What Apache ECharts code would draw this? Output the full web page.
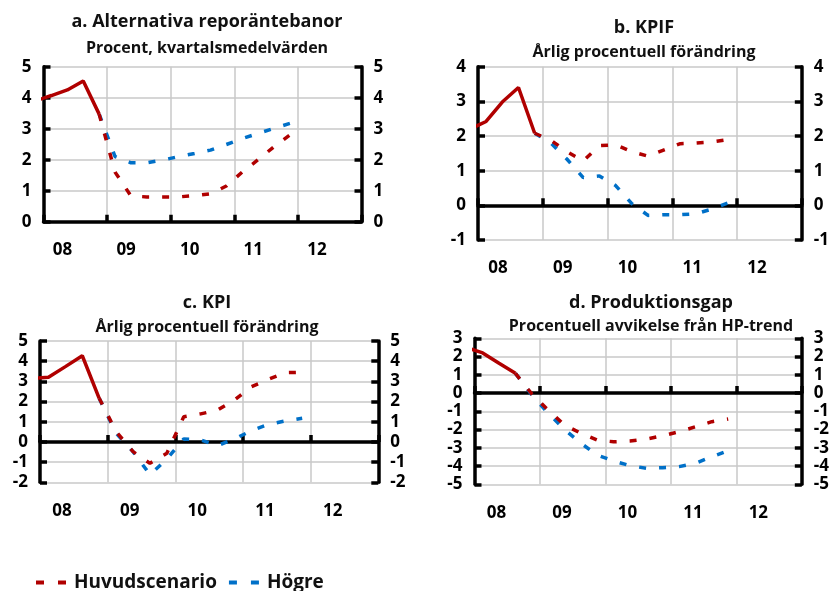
<!DOCTYPE html>
<html>
<head>
<meta charset="utf-8">
<script src="https://cdn.jsdelivr.net/npm/echarts@6/dist/echarts.min.js"></script>
<style>
html,body{margin:0;padding:0;background:#fff;}
#chart{width:832px;height:591px;}
</style>
</head>
<body>
<div id="chart"></div>
<script>
// Quarters (x positions are quarter midpoints; 2007K4 lies just left of the plot and is clipped)
const quarters = ['2007K4','2008K1','2008K2','2008K3','2008K4','2009K1','2009K2','2009K3','2009K4',
                  '2010K1','2010K2','2010K3','2010K4','2011K1','2011K2','2011K3','2011K4'];
const yearLabels = ['08','09','10','11','12'];

// a. Alternativa reporäntebanor
const a_utfall = [3.9, 4.07, 4.25, 4.54, 3.47];
const a_huvud  = [null,null,null,null, 3.47,1.6,0.83,0.8,0.8,0.8,0.84,0.9,1.15,1.6,2.0,2.42,2.8];
const a_hogre  = [null,null,null,null, 3.47,2.1,1.9,1.9,1.99,2.1,2.2,2.31,2.49,2.68,2.85,3.01,3.17];
// b. KPIF
const b_utfall = [2.2, 2.42, 2.98, 3.4, 2.08];
const b_huvud  = [null,null,null,null, 2.08,1.88,1.55,1.28,1.72,1.75,1.55,1.42,1.6,1.78,1.8,1.83,1.9];
const b_hogre  = [null,null,null,null, 2.08,1.8,1.33,0.8,0.85,0.57,0.05,-0.29,-0.27,-0.27,-0.24,-0.1,0.08];
// c. KPI
const c_utfall = [3.15, 3.2, 3.73, 4.27, 2.16];
const c_huvud  = [null,null,null,null, 2.16,0.51,-0.48,-1.06,-0.56,1.25,1.39,1.58,2.08,2.74,3.1,3.43,3.45];
const c_hogre  = [null,null,null,null, 2.16,0.43,-0.48,-1.62,-0.85,0.15,0.1,-0.18,0.15,0.56,0.87,1.04,1.17];
// d. Produktionsgap
const d_utfall = [2.5, 2.2, 1.63, 1.08];
const d_huvud  = [null,null,null, 1.08,-0.05,-0.93,-1.75,-2.2,-2.58,-2.67,-2.63,-2.52,-2.34,-2.12,-1.85,-1.57,-1.42];
const d_hogre  = [null,null,null, 1.08,-0.1,-1.1,-2.0,-2.75,-3.4,-3.72,-3.98,-4.12,-4.09,-4.03,-3.85,-3.49,-3.16];

const panelTitles = ['a. Alternativa reporäntebanor','b. KPIF','c. KPI','d. Produktionsgap'];
const panelSubtitles = ['Procent, kvartalsmedelvärden','Årlig procentuell förändring','Årlig procentuell förändring','Procentuell avvikelse från HP-trend'];
const legendNames = ['Huvudscenario','Högre'];

const RED = '#b00000', BLUE = '#0070c8', FONT = 'Open Sans';

function pairs(arr){ return arr.map((v,k)=>[k-0.5, v]); }

const panels = [
  {grid:{left:43.5, right:470.5, top:66.7, bottom:369.3}, y:[0,5,1], lab:38, title:[207,22,48],
   u:a_utfall, h:a_huvud, g:a_hogre},
  {grid:{left:478, right:29.5, top:66.7, bottom:351}, y:[-1,4,1], lab:40, title:[644,28,52],
   u:b_utfall, h:b_huvud, g:b_hogre},
  {grid:{left:40, right:453.7, top:341, bottom:108.7}, y:[-2,5,1], lab:44, title:[207,303,327],
   u:c_utfall, h:c_huvud, g:c_hogre},
  {grid:{left:474.5, right:27.7, top:338.3, bottom:106.7}, y:[-5,3,1], lab:44, title:[651,303,326],
   u:d_utfall, h:d_huvud, g:d_hogre}
];

const grid=[], xAxis=[], yAxis=[], series=[], graphic=[];
const axisLine = {show:true, onZero:false, lineStyle:{color:'#000', width:3.5}};
const tick = {show:true, inside:true, length:7, lineStyle:{color:'#000', width:3.5}};
const labelStyle = {color:'#000', fontFamily:FONT, fontWeight:'bold', fontSize:17};

panels.forEach((p,gi)=>{
  grid.push(p.grid);
  // axis line on zero with ticks, plus vertical grid lines
  xAxis.push({gridIndex:gi, type:'value', position:'bottom', min:0, max:20, interval:4,
    axisLine:{show:true, onZero:true, lineStyle:{color:'#000', width:3.5}},
    axisTick:tick, axisLabel:{show:false},
    splitLine:{show:true, lineStyle:{color:'#c8c8c8', width:1.5}}});
  // label-only axis at bottom
  xAxis.push({gridIndex:gi, type:'value', position:'bottom', min:0, max:20, interval:4,
    axisLine:{show:false, onZero:false}, axisTick:{show:false}, splitLine:{show:false},
    axisLabel:Object.assign({show:true, margin:20, padding:[0,0,0,p.lab],
      formatter:v=> v<20 ? yearLabels[Math.round(v/4)] : ''}, labelStyle)});
  yAxis.push({gridIndex:gi, type:'value', position:'left', min:p.y[0], max:p.y[1], interval:p.y[2],
    axisLine:axisLine, axisTick:tick,
    axisLabel:Object.assign({margin:12}, labelStyle),
    splitLine:{show:true, lineStyle:{color:'#c8c8c8', width:1.5}}});
  yAxis.push({gridIndex:gi, type:'value', position:'right', min:p.y[0], max:p.y[1], interval:p.y[2],
    axisLine:axisLine, axisTick:tick,
    axisLabel:Object.assign({margin:12}, labelStyle),
    splitLine:{show:false}});
  const xi = gi*2, yi = gi*2;
  series.push({type:'line', name:legendNames[1], xAxisIndex:xi, yAxisIndex:yi, data:pairs(p.g),
    symbol:'none', lineStyle:{color:BLUE, width:3.5, type:[7,13], cap:'butt'}, itemStyle:{color:BLUE}, z:3});
  series.push({type:'line', name:legendNames[0], xAxisIndex:xi, yAxisIndex:yi, data:pairs(p.h),
    symbol:'none', lineStyle:{color:RED, width:3.5, type:[7,13], cap:'butt'}, itemStyle:{color:RED}, z:4});
  series.push({type:'line', name:'Utfall', xAxisIndex:xi, yAxisIndex:yi, data:pairs(p.u),
    symbol:'none', lineStyle:{color:RED, width:3.5, type:'solid'}, itemStyle:{color:RED}, z:5});
  graphic.push({type:'text', x:p.title[0], y:p.title[1], style:{text:panelTitles[gi], fill:'#111',
    font:'bold 18px "'+FONT+'"', textAlign:'center', textVerticalAlign:'middle'}});
  graphic.push({type:'text', x:p.title[0], y:p.title[2], style:{text:panelSubtitles[gi], fill:'#111',
    font:'bold 16px "'+FONT+'"', textAlign:'center', textVerticalAlign:'middle'}});
});

const chart = echarts.init(document.getElementById('chart'), null, {renderer:'canvas'});
chart.setOption({
  animation:false,
  backgroundColor:'#fff',
  grid, xAxis, yAxis, series, graphic,
  legend:{data:legendNames, left:31, top:568, itemWidth:30, itemHeight:4, itemGap:12,
    icon:'path://M0,0 h8 v4 h-8 z M22,0 h8 v4 h-8 z',
    textStyle:{color:'#111', fontFamily:FONT, fontWeight:'bold', fontSize:19, padding:[0,0,0,3]}}
});
</script>
</body>
</html>
